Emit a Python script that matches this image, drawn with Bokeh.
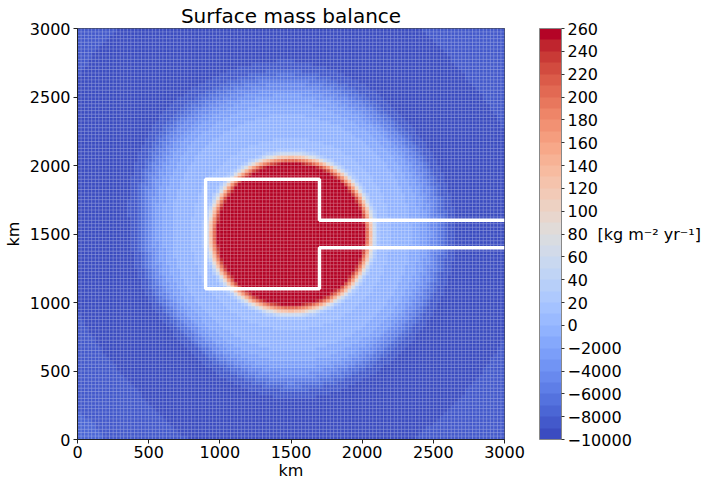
import numpy as np
from bokeh.plotting import figure
from bokeh.models import (Range1d, ColorBar, LinearColorMapper, FixedTicker, LinearAxis,
                          ColumnDataSource)
from bokeh.transform import linear_cmap
from bokeh.embed import file_html
from bokeh.resources import INLINE

# ---------------- data ----------------
domain_km = 3000
cell_km = 25
centre_x_km = 1500
centre_y_km = 1500

# radial surface-mass-balance profile (distance from centre [km] -> SMB)
profile_r = [0, 490, 510, 530, 550, 565, 580, 600, 625, 700, 800, 900, 1000,
             1100, 1200, 1300, 1400, 1550, 1700, 2150, 2600]
profile_smb = [300, 300, 265, 225, 175, 125, 75, 30, 5, 2, -400, -1200, -2500,
               -5000, -8000, -9500, -9800, -9800, -9300, -8700, -7800]
# the outer (ablation) ring is not circular: radial stretch by direction
ring_start_km = 700
ring_angle_deg = [0, 45, 90, 135, 180, 225, 270, 315, 360]
ring_stretch = [0.8, 0.8, 1.0, 1.0, 0.75, 0.7, 0.9, 0.8, 0.8]

# colour levels of the colour bar
level_bounds = [-10000, -9000, -8000, -7000, -6000, -5000, -4000, -3000, -2000, -1000,
                0, 10, 20, 30, 40, 50, 60, 70, 80, 90, 100, 110, 120, 130, 140, 150,
                160, 170, 180, 190, 200, 210, 220, 230, 240, 250, 260]
cbar_tick_values = [-10000, -8000, -6000, -4000, -2000, 0, 20, 40, 60, 80, 100, 120,
                    140, 160, 180, 200, 220, 240, 260]
cbar_tick_labels = ["\u221210000", "\u22128000", "\u22126000", "\u22124000", "\u22122000",
                    "0", "20", "40", "60", "80", "100", "120", "140", "160", "180",
                    "200", "220", "240", "260"]
cbar_unit = "[kg m\u207b\u00b2 yr\u207b\u00b9]"
axis_ticks = [0, 500, 1000, 1500, 2000, 2500, 3000]

# white outline of the model domain
outline_x = [3000, 1700, 1700, 900, 900, 1700, 1700, 3000]
outline_y = [1600, 1600, 1900, 1900, 1100, 1100, 1400, 1400]

# ---------------- colour map (coolwarm, Moreland table) ----------------
_cw = [(59, 76, 192), (68, 90, 204), (77, 104, 215), (87, 117, 225), (98, 130, 234),
       (108, 142, 241), (119, 154, 247), (130, 165, 251), (141, 176, 254),
       (152, 185, 255), (163, 194, 255), (174, 201, 253), (184, 208, 249),
       (194, 213, 244), (204, 217, 238), (213, 219, 230), (221, 221, 221),
       (229, 216, 209), (236, 211, 197), (241, 204, 185), (245, 196, 173),
       (247, 187, 160), (247, 177, 148), (247, 166, 135), (244, 154, 123),
       (241, 141, 111), (236, 127, 99), (229, 112, 88), (222, 96, 77),
       (213, 80, 66), (203, 62, 56), (192, 40, 47), (180, 4, 38)]
_cw = np.array(_cw, dtype=float)
_cw_pos = np.linspace(0, 1, len(_cw))


def coolwarm(t):
    return "#%02x%02x%02x" % tuple(int(round(np.interp(t, _cw_pos, _cw[:, k]))) for k in range(3))


n_levels = len(level_bounds) - 1
palette = [coolwarm(i / (n_levels - 1)) for i in range(n_levels)]
mapper = LinearColorMapper(palette=palette, low=0, high=n_levels)

# ---------------- field ----------------
centres = np.arange(cell_km / 2, domain_km, cell_km)
X, Y = np.meshgrid(centres, centres)
DX, DY = X - centre_x_km, Y - centre_y_km
R = np.hypot(DX, DY)
ANG = np.degrees(np.arctan2(DY, DX)) % 360
S = np.interp(ANG, ring_angle_deg, ring_stretch)
R_eff = np.where(R > ring_start_km, ring_start_km + (R - ring_start_km) / S, R)
SMB = np.interp(R_eff, profile_r, profile_smb)
lev = np.clip(np.searchsorted(level_bounds, SMB, side="right") - 1, 0, n_levels - 1) + 0.5

src = ColumnDataSource(dict(x=X.ravel(), y=Y.ravel(), lev=lev.ravel()))

FONT = "DejaVu Sans"
FRAME_W, FRAME_H = 427, 411

p = figure(frame_width=FRAME_W, frame_height=FRAME_H, output_backend="svg",
           toolbar_location=None,
           x_range=Range1d(0, domain_km), y_range=Range1d(0, domain_km),
           min_border_left=69, min_border_right=0, min_border_top=20,
           min_border_bottom=50)

cmap = linear_cmap("lev", palette, 0, n_levels)
p.rect(x="x", y="y", width=cell_km, height=cell_km, source=src,
       fill_color=cmap, line_color=cmap, line_width=0.5)

# faint cell edges
edges = np.arange(0, domain_km + cell_km, cell_km)
p.segment(x0=edges, y0=np.zeros_like(edges), x1=edges, y1=np.full_like(edges, domain_km),
          line_color="white", line_alpha=0.28, line_width=0.8)
p.segment(x0=np.zeros_like(edges), y0=edges, x1=np.full_like(edges, domain_km), y1=edges,
          line_color="white", line_alpha=0.28, line_width=0.8)

p.line(outline_x, outline_y, line_color="white", line_width=3.5)

# axes
p.grid.visible = False
p.outline_line_color = "#222222"
p.outline_line_width = 1
for ax in (p.xaxis[0], p.yaxis[0]):
    ax.ticker = FixedTicker(ticks=axis_ticks)
    ax.axis_label = "km"
    ax.axis_label_text_font = FONT
    ax.axis_label_text_font_size = "16px"
    ax.axis_label_text_font_style = "normal"
    ax.axis_label_text_color = "black"
    ax.major_label_text_font = FONT
    ax.major_label_text_font_size = "16px"
    ax.major_label_text_color = "black"
    ax.major_tick_in = 0
    ax.major_tick_out = 4
    ax.major_tick_line_color = "#222222"
    ax.minor_tick_line_color = None
    ax.axis_line_color = "#222222"
p.xaxis.major_label_standoff = 2
p.xaxis.axis_label_standoff = 0
p.yaxis.major_label_standoff = 3
p.yaxis.axis_label_standoff = 4

p.title.text = "Surface mass balance"
p.title.align = "center"
p.title.text_font = FONT
p.title.text_font_size = "20px"
p.title.text_font_style = "normal"
p.title.text_color = "black"
p.title.standoff = 2

# empty spacer between the map and the colour bar
spacer_axis = LinearAxis(ticker=FixedTicker(ticks=[]), axis_line_color=None,
                         major_tick_line_color=None, minor_tick_line_color=None,
                         axis_label=" ", axis_label_orientation="horizontal",
                         axis_label_standoff=30, axis_label_text_font_size="8px")
p.add_layout(spacer_axis, "right")

# colour bar
tick_pos = [level_bounds.index(v) for v in cbar_tick_values]
cb = ColorBar(color_mapper=mapper, ticker=FixedTicker(ticks=tick_pos),
              major_label_overrides={pos: lab for pos, lab in zip(tick_pos, cbar_tick_labels)},
              width=22, height=FRAME_H, margin=0, padding=0,
              major_label_text_font=FONT, major_label_text_font_size="16px",
              major_label_text_color="black",
              major_tick_in=0, major_tick_out=3, major_tick_line_color="#333333",
              minor_tick_line_color=None, label_standoff=3,
              bar_line_color="#888888", background_fill_color=None)
p.add_layout(cb, "right")

# unit label of the colour bar (label of an otherwise empty axis)
p.extra_y_ranges = {"unit": Range1d(0, 1)}
unit_axis = LinearAxis(y_range_name="unit", ticker=FixedTicker(ticks=[]), bounds=(0.08, 1.0),
                       axis_line_color=None, major_tick_line_color=None,
                       minor_tick_line_color=None, axis_label=cbar_unit,
                       axis_label_orientation="horizontal", axis_label_standoff=-37,
                       axis_label_text_font=FONT, axis_label_text_font_size="16px",
                       axis_label_text_font_style="normal", axis_label_text_color="black")
p.add_layout(unit_axis, "right")

open("out.html", "w").write(file_html(p, INLINE))
